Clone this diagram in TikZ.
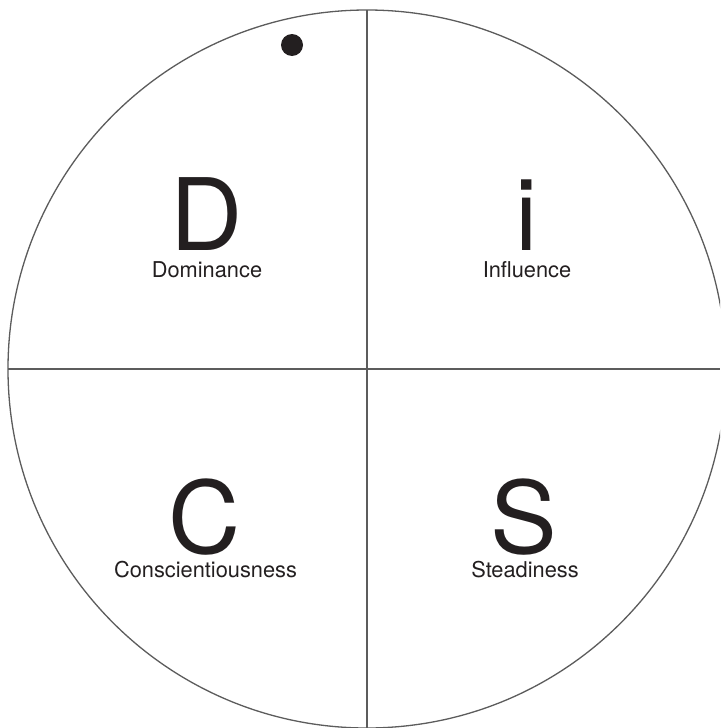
\documentclass[tikz,border=0pt]{standalone}
\usepackage{fontspec}
\setmainfont{TeX Gyre Heros}
\definecolor{ink}{HTML}{231F20}
\definecolor{rulegray}{HTML}{5C5C5C}
\begin{document}
\begin{tikzpicture}[x=1pt,y=-1pt,
  bigletter/.style={text=ink, font=\fontsize{100}{100}\selectfont, inner sep=0pt, text depth=0pt, anchor=base},
  quadlabel/.style={text=ink, font=\fontsize{21.8}{22}\selectfont, inner sep=0pt, text height=15pt, anchor=base},
  divider/.style={draw=rulegray, line width=1.3pt}]
\useasboundingbox (0,0) rectangle (720,728);
\fill[white] (0,0) rectangle (720,728);
\begin{scope}
\clip (0,0) rectangle (720,728);
\draw[divider] (367,369) circle (359pt);
\end{scope}
\coordinate (top) at (367,10);
\coordinate (bottom) at (367,728);
\coordinate (left) at (8,369);
\coordinate (right) at (720,369);
\draw[divider] (top) -- (bottom);
\draw[divider] (left) -- (right);
\node[circle, fill=ink, minimum size=22pt, inner sep=0pt] (dot) at (292,45) {};
\node[bigletter] (D) at (207,250) {D};
\node[quadlabel] (Dl) at (207,277) {Dominance};
\node[bigletter] (I) at (527,250) {i};
\node[quadlabel] (Il) at (527,277) {Influence};
\node[bigletter] (C) at (205,553) {C};
\node[quadlabel] (Cl) at (205.5,577) {Conscientiousness};
\node[bigletter] (S) at (524,553) {S};
\node[quadlabel] (Sl) at (525,577) {Steadiness};
\end{tikzpicture}
\end{document}
